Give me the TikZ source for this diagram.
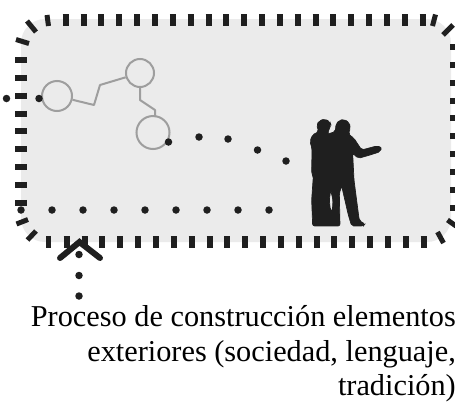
\documentclass[tikz,border=0pt]{standalone}
\usepackage{fontspec}
\setmainfont{Liberation Serif}

\tikzset{
	tick/.style={line width=12.5pt,black!88,dash pattern=on 6pt off 11.85pt},
	cornertick/.style={line width=5pt,black!88},
	pt/.style={circle,fill=black!88,inner sep=0pt,minimum size=7.5pt},
	ring/.style={circle,draw=black!38,line width=2pt,inner sep=0pt},
	link/.style={draw=black!38,line width=2pt,line join=round},
}

\begin{document}
\begin{tikzpicture}[x=1pt,y=-1pt]
\useasboundingbox (0,0) rectangle (455,402);

\fill [black!8,rounded corners=24pt] (21,19) rectangle (451,242);

% border ticks
\coordinate (tl) at (62.7,20);
\coordinate (tr) at (430,20);
\coordinate (bl) at (63.7,242);
\coordinate (br) at (430,242);
\coordinate (lt) at (21,57);
\coordinate (lb) at (21,210);
\coordinate (rt) at (456,44);
\coordinate (rb) at (456,214);
\draw [tick] (tl) to (tr);
\draw [tick] (bl) to (br);
\draw [tick] (lt) to (lb);
\draw [tick] (rt) to (rb);

\draw [cornertick] (47,15) to (48.5,26);
\draw [cornertick] (27,21) to (36,32);
\draw [cornertick] (16,39.5) to (29,43.5);
\draw [cornertick] (16.5,224) to (28,219.5);
\draw [cornertick] (27.5,240) to (36,231);
\draw [cornertick] (48,236) to (48,248);
\draw [cornertick] (435.5,14.5) to (432.5,26);
\draw [cornertick] (443,35) to (453,25);
\draw [cornertick] (437.5,232) to (443.5,243);
\draw [cornertick] (447.5,220) to (456,226);

% rings
\node [ring,minimum size=30pt] (c1) at (57,96) {};
\node [ring,minimum size=28pt] (c2) at (140,73) {};
\node [ring,minimum size=33pt] (c3) at (153,132.5) {};
\draw [link] (c1) -- (94,105) -- (100,85) -- (c2);
\draw [link] (c2) -- (140,100) -- (155,110) -- (155,117);

% dots
\node [pt] (a0) at (6.5,98.5) {};
\node [pt] (a1) at (39,98.5) {};
\node [pt] (b0) at (168.5,142) {};
\node [pt] (b1) at (199,137) {};
\node [pt] (b2) at (228,139) {};
\node [pt] (b3) at (257.5,150) {};
\node [pt] (b4) at (286,161) {};
\node [pt] (d0) at (21,210) {};
\node [pt] (d1) at (52,210) {};
\node [pt] (d2) at (83,210) {};
\node [pt] (d3) at (114,210) {};
\node [pt] (d4) at (145,210) {};
\node [pt] (d5) at (176,210) {};
\node [pt] (d6) at (207,210) {};
\node [pt] (d7) at (238,210) {};
\node [pt] (d8) at (269,210) {};
\node [pt] (e0) at (79,254.5) {};
\node [pt] (e1) at (79,275.5) {};
\node [pt] (e2) at (79,296) {};

% chevron
\coordinate (v0) at (60,258);
\coordinate (v1) at (79.5,242);
\coordinate (v2) at (100,258);
\draw [black!88,line width=6pt,line cap=round,line join=miter] (v0) -- (v1) -- (v2);

% people
\begin{scope}[shift={(280,100)},x=0.3333pt,y=-0.3333pt]
\filldraw [black!88,line width=0.7pt,even odd rule,rounded corners=2pt]
	(98,378) -- (95,300) -- (100,228) -- (95,220) -- (96,145) -- (90,125) -- (97,105)
	-- (116,95) -- (110,75) -- (118,62) -- (135,57) -- (150,66) -- (153,75) -- (146,90)
	-- (143,102) -- (166,95) -- (168,72) -- (178,61) -- (192,58) -- (208,68) -- (211,85)
	-- (205,102) -- (222,115) -- (245,150) -- (290,138) -- (305,142) -- (301,155)
	-- (270,165) -- (235,175) -- (218,160) -- (222,240) -- (235,340) -- (238,362)
	-- (255,372) -- (250,378) -- (215,378) -- (205,345) -- (185,258) -- (178,280)
	-- (180,378) -- cycle
	(152,270) -- (148,300) -- (151,330) -- (157,335) -- (159,300) -- cycle;
\end{scope}

% caption
\node [anchor=north east,align=right,font=\fontsize{30.3}{34.5}\selectfont,inner sep=0pt] (cap) at (456,305.5)
	{Proceso de construcción elementos\\exteriores (sociedad, lenguaje,\\tradición)};

\end{tikzpicture}
\end{document}
